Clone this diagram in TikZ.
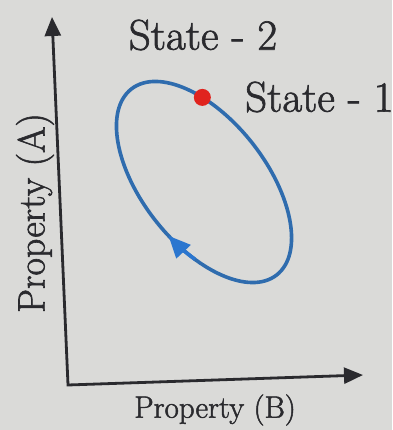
\documentclass[tikz,border=0pt]{standalone}
\usepackage{fontspec}
\newfontfamily\lblfont{Latin Modern Roman}[FakeBold=1.6]
\usepackage{tikz}
\usetikzlibrary{arrows.meta}
\definecolor{Ink}{HTML}{2A2A2E}
\definecolor{Paper}{HTML}{DADAD8}
\definecolor{Loop}{HTML}{2F6CAE}
\definecolor{Tip}{HTML}{2B76CF}
\definecolor{Dot}{HTML}{E0231E}

\begin{document}
\begin{tikzpicture}[x=1pt, y=1pt,
      axis/.style={draw=Ink, line width=2.8pt,
                   {Triangle[length=19pt, width=16pt]}-{Triangle[length=19pt, width=16pt]}},
      loop/.style={draw=Loop, line width=3.6pt},
      dir/.style={draw=Tip, line width=3.6pt, -{Triangle[length=22pt, width=19pt]}},
      dot/.style={circle, fill=Dot, minimum size=17pt, inner sep=0pt},
      lbl/.style={text=Ink, inner sep=0pt}]

    \fill[Paper] (0,0) rectangle (392,430);
    \useasboundingbox (0,0) rectangle (392,430);

    % axes
    \coordinate (ytip) at (52,413);
    \coordinate (orig) at (68,45);
    \coordinate (xtip) at (363,55);
    \draw[axis] (ytip) -- (orig) -- (xtip);

    \node[lbl, rotate=90, font=\lblfont\fontsize{38}{40}\selectfont] (pa) at (35,217) {Property (A)};
    \node[lbl, font=\lblfont\fontsize{31}{33}\selectfont] (pb) at (215,20) {Property (B)};

    % cycle
    \begin{scope}[shift={(204,248)}, rotate=-52]
      \draw[loop] (0,0) ellipse [x radius=118, y radius=62];
      \draw[dir] (-62:118 and 62) arc [start angle=-62, end angle=-80, x radius=118, y radius=62];
      \node[dot] (s1) at (125:118 and 62) {};
    \end{scope}

    \node[lbl, font=\lblfont\fontsize{43}{45}\selectfont] (st2) at (203,395) {State - 2};
    \node[lbl, anchor=west, font=\lblfont\fontsize{43}{45}\selectfont] (st1) at (245,333) {State - 1};
  \end{tikzpicture}
\end{document}
